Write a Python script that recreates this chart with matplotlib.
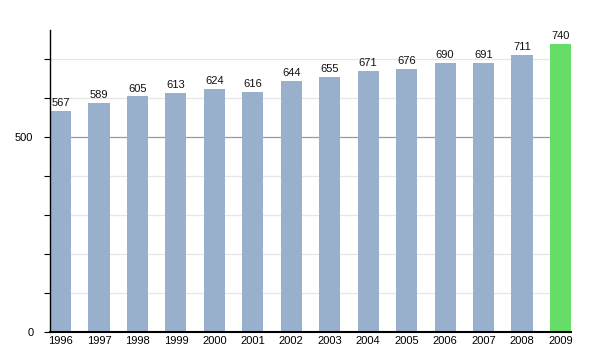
import matplotlib
matplotlib.use("Agg")
import matplotlib.pyplot as plt

plt.rcParams["font.family"] = ["Liberation Sans", "DejaVu Sans"]

# Population by year
years = ["1996", "1997", "1998", "1999", "2000", "2001", "2002",
         "2003", "2004", "2005", "2006", "2007", "2008", "2009"]
values = [567, 589, 605, 613, 624, 616, 644, 655, 671, 676, 690, 691, 711, 740]

bar_color = "#98b0cc"
last_color = "#66dd66"
colors = [bar_color] * (len(years) - 1) + [last_color]

fig = plt.figure(figsize=(6, 3.5), dpi=100)
ax = fig.add_axes([0.0833, 0.0514, 0.8684, 0.8626])

x = list(range(len(years)))
width = 0.55
ax.bar(x, values, width=width, color=colors, zorder=2)

# value labels above the bars
for xi, v in zip(x, values):
    ax.annotate(str(v), (xi, v), xytext=(0, 2), textcoords="offset points",
                ha="center", va="bottom", fontsize=8, color="#111111")

ax.set_xlim(-width / 2, len(years) - 1 + width / 2)
ax.set_ylim(0, 775)

# light grid every 100, darker line at 500
for g in range(100, 800, 100):
    c = "#999999" if g == 500 else "#e6e6e6"
    ax.axhline(g, xmax=0.96, color=c, linewidth=0.9, zorder=1)

ax.set_yticks([0, 500])
ax.set_yticks([100, 200, 300, 400, 600, 700], minor=True)
ax.tick_params(axis="y", which="both", direction="out", length=4, width=0.8,
               labelsize=8, pad=8)
ax.set_xticks(x)
ax.set_xticklabels(years)
ax.tick_params(axis="x", length=0, labelsize=8, pad=3)

ax.spines["top"].set_visible(False)
ax.spines["right"].set_visible(False)
ax.spines["left"].set_linewidth(1.0)
ax.spines["bottom"].set_linewidth(1.5)

fig.savefig("out.png", dpi=100)
